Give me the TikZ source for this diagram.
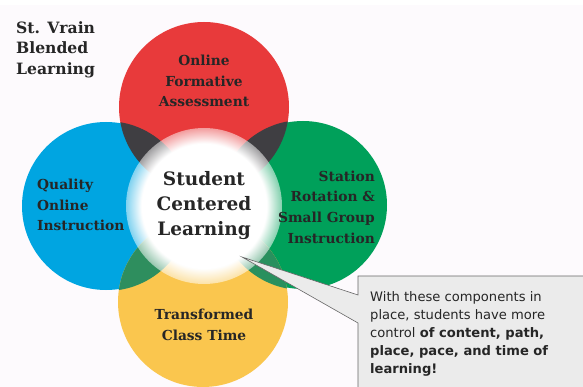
\documentclass[tikz,border=0pt]{standalone}
\usepackage{fontspec}
\setmainfont{DejaVu Serif}
\newfontfamily\calloutfont{DejaVu Sans}
\usepackage{tikz}
\usetikzlibrary{fadings}
\definecolor{ofared}{HTML}{E83A3B}
\definecolor{qoiblue}{HTML}{00A5E1}
\definecolor{srsgreen}{HTML}{00A05A}
\definecolor{tctyellow}{HTML}{FAC64E}
\definecolor{overgray}{HTML}{3F3E42}
\definecolor{overgreen}{HTML}{2E8E5E}
\definecolor{pagebg}{HTML}{FDFAFD}
\definecolor{boxfill}{HTML}{EBEBEB}
\definecolor{labeltext}{HTML}{262626}
\tikzset{
  lbl/.style={font=\bfseries\fontsize{13.8}{20.6}\selectfont, text=labeltext, inner sep=0pt},
  bigl/.style={font=\bfseries\fontsize{18.5}{25}\selectfont, text=labeltext, inner sep=0pt, align=center}
}
\newcommand{\Overlap}[4]{\begin{scope}\clip (#1) circle (#2);\fill[#4] (#3) circle (85);\end{scope}}

\begin{document}
\begin{tikzpicture}[x=1pt,y=-1pt]
\useasboundingbox (0,0) rectangle (583,387);
\fill[pagebg] (0,5) rectangle (583,387);
\coordinate (ofa) at (204,107);
\coordinate (qoi) at (106,206);
\coordinate (srs) at (303,205);
\coordinate (tct) at (203,302);
\coordinate (scl) at (204,206);
\fill[ofared] (ofa) circle (85);
\fill[qoiblue] (qoi) circle (84);
\fill[srsgreen] (srs) circle (84);
\fill[tctyellow] (tct) circle (85);
\Overlap{ofa}{85}{qoi}{overgray}
\Overlap{ofa}{85}{srs}{overgray}
\Overlap{tct}{85}{qoi}{overgreen}
\Overlap{tct}{85}{srs}{overgreen!90!srsgreen}
\fill[white, opacity=.5] (scl) circle (78);
\fill[white, path fading=circle with fuzzy edge 20 percent] (scl) circle (78);
\node[lbl, font=\bfseries\fontsize{15.6}{20.5}\selectfont, anchor=west, align=left] (title) at (16,49.5) {St. Vrain\\Blended\\Learning};
\node[lbl, align=center] (ofalbl) at (204,81) {Online\\Formative\\Assessment};
\node[lbl, align=left, anchor=west] (qoilbl) at (37,205) {Quality\\Online\\Instruction};
\node[lbl, align=right, anchor=east] (srslbl) at (375,207) {Station\\Rotation \&\\Small Group\\Instruction};
\node[lbl, align=center] (tctlbl) at (204,325) {Transformed\\Class Time};
\node[bigl] (scllbl) at (scl) {Student\\Centered\\Learning};
\coordinate (tip) at (242,257);
\filldraw[fill=boxfill, draw=gray!80!black, line width=.6pt]
  (tip) -- (358,295) -- (358,276) -- (590,276) -- (590,395) -- (358,395) -- (358,323) -- cycle;
\node[anchor=west, align=left, inner sep=0pt, text=labeltext,
  font=\calloutfont\fontsize{13.1}{18}\selectfont] (note) at (370,333.5)
  {With these components in\\place, students have more\\control \textbf{of content, path,}\\\textbf{place, pace, and time of}\\\textbf{learning!}};
\end{tikzpicture}
\end{document}
